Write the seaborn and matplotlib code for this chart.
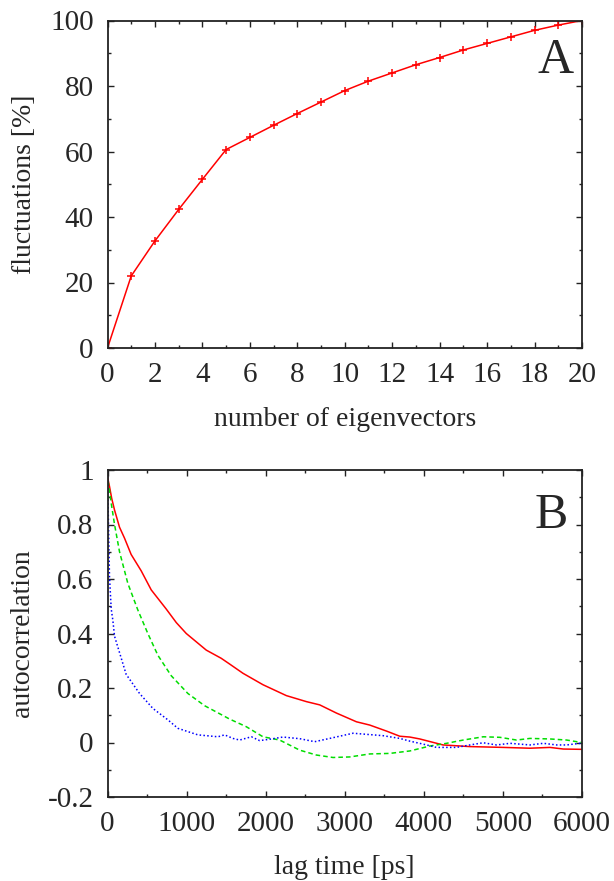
import numpy as np
import pandas as pd
import matplotlib
matplotlib.use("Agg")
import matplotlib.pyplot as plt
import seaborn as sns

# Panel A data
n_eigen = list(range(0, 21))
fluct = [0, 22.0, 32.7, 42.3, 51.5, 60.6, 64.3, 68.0, 71.6, 75.1, 78.6,
         81.5, 84.0, 86.5, 88.7, 91.0, 93.0, 95.0, 97.0, 98.6, 100.0]

# Panel B data
t_red = [0, 25, 53, 89, 152, 215, 299, 426, 553, 742, 870, 996, 1249, 1438,
         1544, 1713, 1966, 2262, 2515, 2684, 2895, 3148, 3316, 3527, 3696,
         3823, 3949, 4243, 4582, 5004, 5342, 5595, 5764, 5975, 6000]
v_red = [0.975, 0.94, 0.896, 0.853, 0.79, 0.75, 0.69, 0.63, 0.56, 0.49,
         0.44, 0.40, 0.339, 0.309, 0.288, 0.254, 0.212, 0.172, 0.150, 0.138,
         0.108, 0.076, 0.064, 0.042, 0.023, 0.020, 0.013, -0.009, -0.015,
         -0.018, -0.021, -0.018, -0.024, -0.025, -0.025]

t_green = [0, 13, 47, 89, 152, 257, 384, 510, 637, 806, 1016, 1228, 1544,
           1755, 1966, 2177, 2430, 2641, 2852, 3063, 3316, 3570, 3823, 4076,
           4287, 4498, 4751, 4962, 5173, 5342, 5595, 5806, 5975, 6000]
v_green = [0.96, 0.95, 0.878, 0.80, 0.70, 0.584, 0.486, 0.40, 0.32, 0.245,
           0.18, 0.135, 0.086, 0.058, 0.021, 0.009, -0.028, -0.046, -0.055,
           -0.053, -0.042, -0.040, -0.031, -0.013, -0.003, 0.009, 0.021,
           0.019, 0.009, 0.015, 0.013, 0.009, 0.001, 0.0]

t_blue = [0, 13, 25, 47, 67, 89, 152, 236, 405, 574, 764, 890, 1143, 1397,
          1481, 1586, 1671, 1819, 1924, 2051, 2219, 2430, 2620, 2810, 3105,
          3232, 3485, 3696, 3823, 3992, 4160, 4413, 4582, 4751, 4920, 5089,
          5342, 5511, 5680, 5806, 5975, 6000]
v_blue = [0.99, 0.79, 0.61, 0.49, 0.45, 0.39, 0.33, 0.25, 0.18, 0.125,
          0.083, 0.052, 0.028, 0.021, 0.028, 0.015, 0.009, 0.021, 0.007,
          0.012, 0.020, 0.014, 0.003, 0.015, 0.034, 0.031, 0.025, 0.015,
          0.005, -0.006, -0.018, -0.018, -0.009, -0.001, -0.009, -0.003,
          -0.009, -0.003, -0.009, -0.009, -0.003, -0.002]

sns.set_style("ticks")
plt.rcParams['font.family'] = ['Liberation Serif', 'DejaVu Serif']

W, H = 614, 881
fig = plt.figure(figsize=(W / 100, H / 100), dpi=100)

def frac_axes(left, top, right, bottom):
    return fig.add_axes([left / W, 1 - bottom / H, (right - left) / W, (bottom - top) / H])

axA = frac_axes(107.5, 20.5, 582, 348)
axB = frac_axes(107.5, 470, 582, 797)

tick_fs = 21
label_fs = 20

def style(ax):
    for s in ax.spines.values():
        s.set_linewidth(1.3)
        s.set_color('#222222')
    ax.tick_params(which='both', direction='in', top=True, right=True,
                   labelsize=tick_fs, color='#222222', width=1.0)
    ax.tick_params(which='major', length=4.5, pad=10)
    ax.tick_params(which='minor', length=2.5)
    ax.grid(False)

# Panel A
dfA = pd.DataFrame({'n': n_eigen, 'f': fluct})
sns.lineplot(data=dfA, x='n', y='f', ax=axA, color='#ff0000', linewidth=1.1,
             marker='+', markersize=5.5, markeredgewidth=1.1, markeredgecolor='#ff0000')
axA.set_xlim(0, 20)
axA.set_ylim(0, 100)
axA.set_xticks(range(0, 21, 2))
axA.set_xticks(range(0, 21, 1), minor=True)
axA.set_yticks(range(0, 101, 20))
axA.set_yticks(range(0, 101, 10), minor=True)
style(axA)
axA.set_xlabel('number of eigenvectors', fontsize=label_fs, labelpad=14)
axA.set_ylabel('fluctuations [%]', fontsize=label_fs, labelpad=9)
axA.text(0.982, 0.8406, 'A', transform=axA.transAxes, ha='right', va='baseline', fontsize=36)

# Panel B
dfR = pd.DataFrame({'t': t_red, 'v': v_red})
dfG = pd.DataFrame({'t': t_green, 'v': v_green})
dfBl = pd.DataFrame({'t': t_blue, 'v': v_blue})
sns.lineplot(data=dfR, x='t', y='v', ax=axB, color='#ff0000', linewidth=1.1)
sns.lineplot(data=dfG, x='t', y='v', ax=axB, color='#00dd00', linewidth=1.1,
             linestyle=(0, (3, 2)))
sns.lineplot(data=dfBl, x='t', y='v', ax=axB, color='#0000ff', linewidth=1.1,
             linestyle=(0, (1, 1.5)))
axB.set_xlim(0, 6000)
axB.set_ylim(-0.2, 1.0)
axB.set_xticks(range(0, 6001, 1000))
axB.set_xticks(range(0, 6001, 500), minor=True)
axB.set_yticks([-0.2, 0, 0.2, 0.4, 0.6, 0.8, 1.0])
axB.set_yticklabels(['-0.2', '0', '0.2', '0.4', '0.6', '0.8', '1'])
axB.set_yticks(np.arange(-0.2, 1.01, 0.1), minor=True)
style(axB)
axB.set_xlabel('lag time [ps]', fontsize=label_fs, labelpad=13)
axB.set_ylabel('autocorrelation', fontsize=label_fs, labelpad=9)
axB.text(0.97, 0.8226, 'B', transform=axB.transAxes, ha='right', va='baseline', fontsize=36)

fig.savefig('out.png', dpi=100)
